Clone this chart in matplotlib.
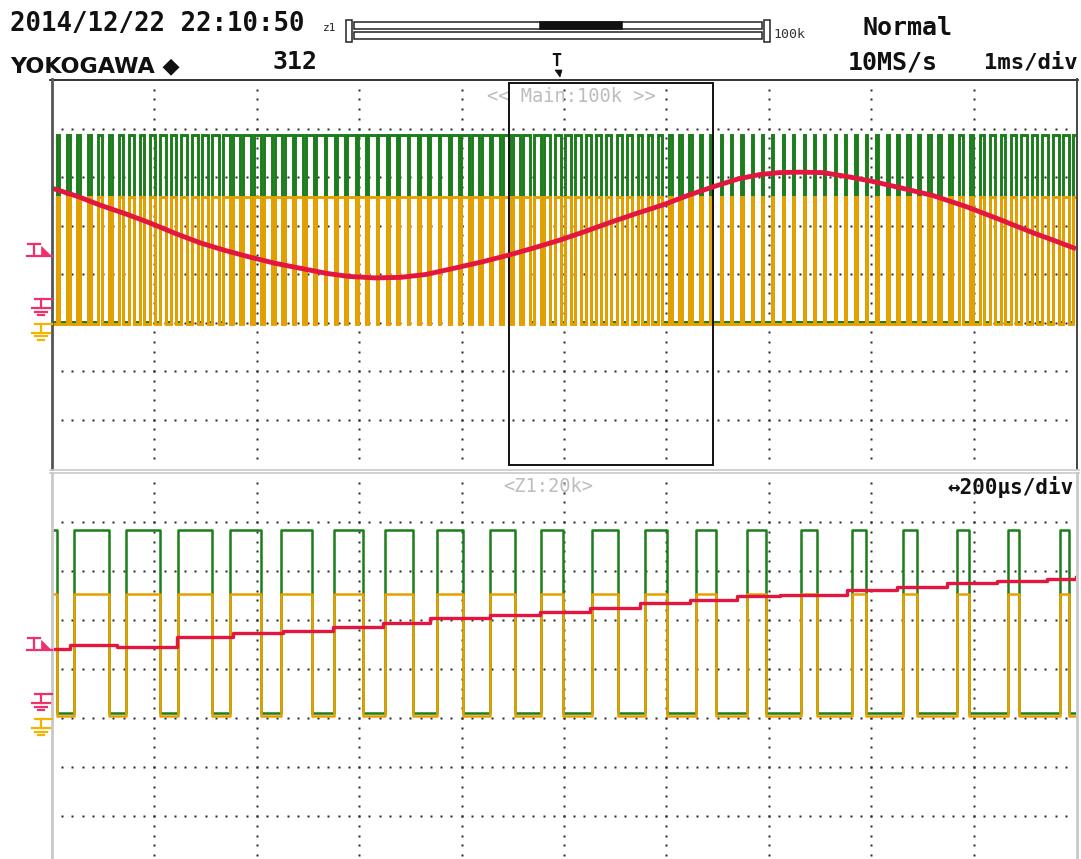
import matplotlib
matplotlib.use("Agg")
import matplotlib.pyplot as plt
from matplotlib.patches import Rectangle, Polygon
from matplotlib.lines import Line2D

W, H = 1081, 859

# ---------------- main window: 1 ms/div, 0..10 ms ----------------
carrier_period_ms = 0.1013
first_rise_ms = -0.0555
duty_main = [0.20, 0.23, 0.26, 0.28, 0.31, 0.34, 0.36, 0.39, 0.42, 0.44,
             0.47, 0.50, 0.53, 0.56, 0.59, 0.62, 0.64, 0.66, 0.68, 0.70,
             0.72, 0.74, 0.75, 0.77, 0.79, 0.81, 0.82, 0.84, 0.84, 0.85,
             0.85, 0.86, 0.85, 0.84, 0.83, 0.82, 0.81, 0.81, 0.80, 0.79,
             0.77, 0.75, 0.73, 0.71, 0.70, 0.67, 0.65, 0.65, 0.59, 0.60,
             0.55, 0.54, 0.50, 0.48, 0.42, 0.49, 0.42, 0.38, 0.38, 0.31,
             0.27, 0.27, 0.23, 0.22, 0.17, 0.17, 0.15, 0.13, 0.11, 0.10,
             0.10, 0.10, 0.10, 0.10, 0.09, 0.10, 0.12, 0.13, 0.15, 0.16,
             0.18, 0.19, 0.21, 0.22, 0.24, 0.26, 0.28, 0.31, 0.34, 0.37,
             0.40, 0.42, 0.45, 0.48, 0.51, 0.54, 0.57, 0.59, 0.62, 0.65]
green_main_hi, green_main_lo = 2.87, -0.99
orange_main_hi, orange_main_lo = 1.59, -1.03
red_main_t = [0.00, 0.25, 0.47, 0.72, 0.96, 1.20, 1.45, 1.70, 1.93, 2.18,
              2.42, 2.69, 2.90, 3.15, 3.40, 3.65, 3.93, 4.20, 4.46, 4.71,
              4.96, 5.21, 5.46, 5.71, 5.96, 6.21, 6.46, 6.70, 6.91, 7.10,
              7.30, 7.53, 7.79, 8.01, 8.28, 8.60, 8.94, 9.26, 9.58, 9.80,
              10.00]
red_main_v = [1.77, 1.60, 1.42, 1.24, 1.05, 0.84, 0.64, 0.48, 0.35, 0.22,
              0.12, 0.01, -0.05, -0.08, -0.07, -0.01, 0.12, 0.25, 0.39, 0.54,
              0.70, 0.88, 1.07, 1.25, 1.42, 1.62, 1.80, 1.96, 2.05, 2.09,
              2.10, 2.09, 2.00, 1.91, 1.78, 1.62, 1.38, 1.12, 0.85, 0.68,
              0.52]
zoom_start_ms, zoom_end_ms = 4.46, 6.455

# ---------------- zoom window Z1: 200 us/div, 0..2000 us ----------------
zoom_rise_us = [43, 145, 246, 348, 447, 551, 650, 752, 855, 955,
                1055, 1158, 1258, 1357, 1463, 1563, 1662, 1768, 1867, 1969]
zoom_fall_us = [10, 111, 211, 312, 408, 508, 607, 705, 803, 904,
                998, 1105, 1201, 1297, 1395, 1494, 1590, 1689, 1791, 1889, 1986]
green_zoom_hi, green_zoom_lo = 2.83, -0.90
orange_zoom_hi, orange_zoom_lo = 1.53, -0.96
red_zoom_t = [0, 35, 127, 244, 354, 451, 549, 646, 738, 855, 953,
              1051, 1148, 1246, 1338, 1422, 1553, 1650, 1748, 1846, 1943, 2000]
red_zoom_v = [0.41, 0.49, 0.45, 0.65, 0.73, 0.78, 0.86, 0.94, 1.04, 1.10, 1.16,
              1.24, 1.35, 1.41, 1.49, 1.51, 1.61, 1.67, 1.76, 1.80, 1.84, 1.88]

trigger_level = 0.40
red_ground = -0.52
orange_ground = -1.03

GREEN = "#1b7d1b"
ORANGE = "#e6a100"
RED = "#e3163f"
PINK = "#f0306c"
GOLD = "#f2b400"
DOT = "#2a2a2a"


def pwm_path(rises, falls, hi, lo, t0, t1):
    events = sorted([(t, hi) for t in rises] + [(t, lo) for t in falls])
    state = lo if events[0][1] == hi else hi
    xs, ys = [t0], [state]
    for t, lvl in events:
        xs += [t, t]
        ys += [state, lvl]
        state = lvl
    xs.append(t1)
    ys.append(state)
    return xs, ys


def dotted_grid(ax, x0, x1, ndiv_x, y_lo, y_hi):
    span = x1 - x0
    step = span / ndiv_x
    # horizontal rows: a dot every 0.1 div
    hx = [x0 + span * i / 100 for i in range(1, 100)]
    for row in (-3, -2, -1, 0, 1, 2, 3):
        if y_lo < row < y_hi:
            ax.plot(hx, [row] * len(hx), ls="none", marker="s", ms=1.5,
                    mec="none", mfc=DOT, zorder=1)
    # vertical columns: a dot every 0.2 div
    vy = [-4 + 0.2 * i for i in range(1, 40)]
    vy = [v for v in vy if y_lo < v < y_hi]
    for c in range(1, ndiv_x):
        ax.plot([x0 + c * step] * len(vy), vy, ls="none", marker="s", ms=1.5,
                mec="none", mfc=DOT, zorder=1)


fig = plt.figure(figsize=(W / 100, H / 100), dpi=100)
fig.patch.set_facecolor("white")


def fx(x):
    return x / W


def fy(y):
    return 1 - y / H


ax_main = fig.add_axes([fx(52), fy(468), 1024 / W, 388 / H])
ax_zoom = fig.add_axes([fx(52), fy(859), 1024 / W, (859 - 473) / H])
for ax in (ax_main, ax_zoom):
    ax.set_axis_off()
ax_main.set_xlim(0, 10)
ax_main.set_ylim(-4, 4)
ax_zoom.set_xlim(0, 2000)
ax_zoom.set_ylim(4 - 386 / 49.0, 4)

# ---- main window traces ----
dotted_grid(ax_main, 0, 10, 10, -4, 4)
rises_main = [first_rise_ms + k * carrier_period_ms for k in range(len(duty_main))]
falls_main = [r + d * carrier_period_ms for r, d in zip(rises_main, duty_main)]
gx, gy = pwm_path(rises_main, falls_main, green_main_hi, green_main_lo, -0.2, 10.2)
ox, oy = pwm_path(rises_main, falls_main, orange_main_hi, orange_main_lo, -0.2, 10.2)
ax_main.plot(gx, gy, color=GREEN, lw=2.1, zorder=3, solid_joinstyle="miter")
ax_main.plot(ox, oy, color=ORANGE, lw=2.1, zorder=4, solid_joinstyle="miter")
ax_main.add_patch(Rectangle((zoom_start_ms, -3.94), zoom_end_ms - zoom_start_ms, 7.88,
                            fill=False, ec="#111111", lw=1.4, zorder=5))
ax_main.plot(red_main_t, red_main_v, color=RED, lw=3.5, zorder=6,
             solid_capstyle="butt")
ax_main.text(5.07, 3.65, "<< Main:100k >>", ha="center", va="center",
             family="DejaVu Sans Mono", fontsize=13.5, color="#bdbdbd", zorder=2)

# ---- zoom window traces ----
dotted_grid(ax_zoom, 0, 2000, 10, 4 - 386 / 49.0, 4)
zgx, zgy = pwm_path(zoom_rise_us, zoom_fall_us, green_zoom_hi, green_zoom_lo, -5, 2005)
zox, zoy = pwm_path(zoom_rise_us, zoom_fall_us, orange_zoom_hi, orange_zoom_lo, -5, 2005)
ax_zoom.plot(zgx, zgy, color=GREEN, lw=1.8, zorder=3)
ax_zoom.plot(zox, zoy, color=ORANGE, lw=1.8, zorder=4)
ax_zoom.plot(red_zoom_t, red_zoom_v, color=RED, lw=2.4, zorder=6,
             drawstyle="steps-post")
ax_zoom.text(970, 3.72, "<Z1:20k>", ha="center", va="center",
             family="DejaVu Sans Mono", fontsize=13.5, color="#bdbdbd", zorder=2)
ax_zoom.text(1996, 3.72, "\u2194200\u03bcs/div", ha="right", va="center",
             family="DejaVu Sans Mono", fontsize=15, fontweight="bold",
             color="#111111", zorder=7)

# ---- overlay in pixel units for frame, header and channel markers ----
ov = fig.add_axes([0, 0, 1, 1], zorder=10)
ov.set_xlim(0, W)
ov.set_ylim(H, 0)
ov.axis("off")
ov.patch.set_alpha(0)


def ypix(ax, level):
    return H - ax.transData.transform((0, level))[1]


def line(xs, ys, **kw):
    ov.add_line(Line2D(xs, ys, **kw))


# frames
line([50, 1078], [79.5, 79.5], color="#222222", lw=1.3)
line([52, 52], [79, 469], color="#555555", lw=2.0)
line([1077, 1077], [79, 469], color="#444444", lw=1.4)
line([50, 1079], [469.5, 469.5], color="#c9c9c9", lw=1.2)
line([50, 1079], [472.5, 472.5], color="#c9c9c9", lw=1.2)
line([52, 52], [473, 859], color="#c9c9c9", lw=2.0)
line([1077, 1077], [473, 859], color="#c9c9c9", lw=2.0)


def trigger_mark(ax, level):
    y0 = ypix(ax, level)
    line([27, 52], [y0 + 1, y0 + 1], color=PINK, lw=1.6)
    line([28, 40], [y0 - 11, y0 - 11], color=PINK, lw=1.6)
    line([34, 34], [y0 - 11, y0 - 1], color=PINK, lw=1.6)
    ov.add_patch(Polygon([[41, y0 - 9], [41, y0 + 1], [51, y0 + 1]], closed=True,
                         fc=PINK, ec=PINK, lw=0.5))


def ground_mark(ax, level, color):
    y0 = ypix(ax, level)
    line([35, 52], [y0, y0], color=color, lw=1.6)
    line([41, 41], [y0, y0 + 9], color=color, lw=1.6)
    line([32, 50], [y0 + 9, y0 + 9], color=color, lw=1.6)
    line([35, 47], [y0 + 12.5, y0 + 12.5], color=color, lw=1.6)
    line([38, 44], [y0 + 16, y0 + 16], color=color, lw=1.6)


for ax in (ax_main, ax_zoom):
    trigger_mark(ax, trigger_level)
    ground_mark(ax, red_ground, PINK)
    ground_mark(ax, orange_ground, GOLD)

# header
mono = dict(family="DejaVu Sans Mono", fontweight="bold", color="#111111")
ov.text(10, 31, "2014/12/22 22:10:50", fontsize=18.5, ha="left", va="baseline", **mono)
ov.text(323, 31, "z1", fontsize=8, ha="left", va="baseline",
        family="DejaVu Sans Mono", color="#222222")
ov.text(10, 72, "YOKOGAWA \u25c6", fontsize=16, ha="left", va="baseline",
        family="DejaVu Sans", fontweight="bold", color="#111111")
ov.text(272, 69, "312", fontsize=18, ha="left", va="baseline", **mono)
ov.text(862, 35, "Normal", fontsize=18, ha="left", va="baseline", **mono)
ov.text(848, 69, "10MS/s", fontsize=18, ha="left", va="baseline", **mono)
ov.text(1078, 69, "1ms/div", fontsize=16, ha="right", va="baseline", **mono)
ov.text(773, 38, "100k", fontsize=9.5, ha="left", va="baseline",
        family="DejaVu Sans Mono", color="#333333")

# record-length bar with zoom position
ov.add_patch(Rectangle((346, 20), 6, 22, fill=False, ec="#222222", lw=1.1))
ov.add_patch(Rectangle((764, 20), 6, 22, fill=False, ec="#222222", lw=1.1))
ov.add_patch(Rectangle((354, 22), 408, 7, fill=False, ec="#222222", lw=1.1))
ov.add_patch(Rectangle((354, 32), 408, 7, fill=False, ec="#222222", lw=1.1))
ov.add_patch(Rectangle((540, 22), 82, 7, fc="#111111", ec="#111111", lw=1.1))

# trigger position marker above the main window
ov.text(556, 66, "T", fontsize=12, ha="center", va="baseline",
        family="DejaVu Sans Mono", fontweight="bold", color="#111111")
ov.add_patch(Polygon([[555, 70], [562, 70], [560, 77]], closed=True,
                     fc="#111111", ec="#111111", lw=0.5))

fig.savefig("out.png", dpi=100, facecolor="white")
